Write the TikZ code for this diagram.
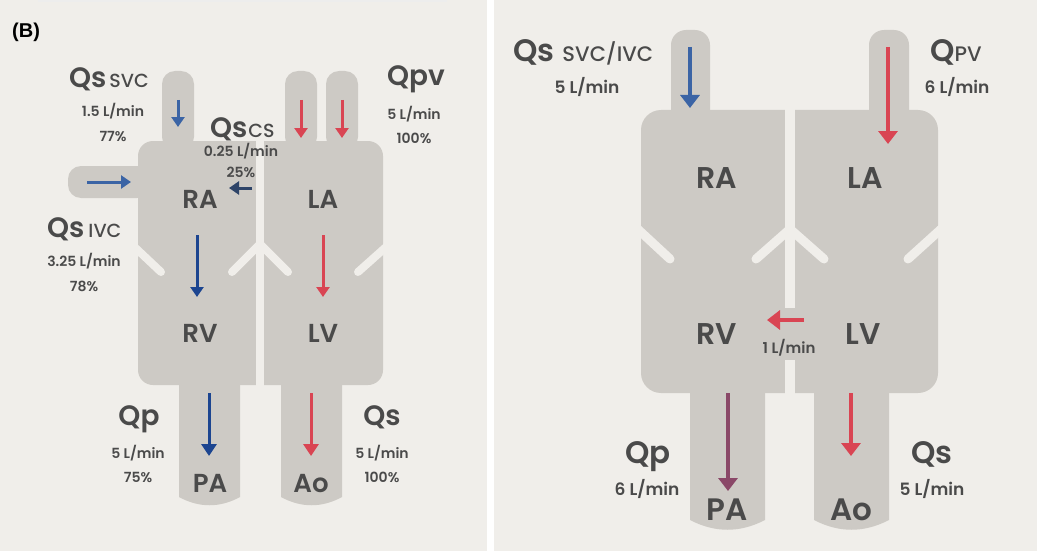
\documentclass[tikz,border=0pt]{standalone}
\usepackage{fontspec}
\usetikzlibrary{arrows.meta}
\newfontfamily\popm{Poppins}[UprightFont={* Medium}, BoldFont={* SemiBold}]
\newfontfamily\labfont{Liberation Sans}
\definecolor{bgc}{HTML}{F0EEEA}
\definecolor{organc}{HTML}{CDCAC5}
\definecolor{txtc}{HTML}{4A4A4A}
\definecolor{bluea}{HTML}{3B64A5}
\definecolor{blueb}{HTML}{1C4590}
\definecolor{navyc}{HTML}{2E4468}
\definecolor{reda}{HTML}{D94553}
\definecolor{purpc}{HTML}{8A4868}
\newcommand\fsz[2]{{\fontsize{#1}{#1}\selectfont #2}}
\tikzset{
  organshape/.style={fill=organc},
  wall/.style={draw=bgc, line width=8pt, line cap=round, line join=round},
  sept/.style={draw=bgc, line width=8pt},
  flowS/.style={line width=3pt, -{Triangle[width=13pt,length=10pt]}},
  flowL/.style={line width=4pt, -{Triangle[width=19pt,length=13pt]}},
  lab/.style={text=txtc, inner sep=0pt, font=\popm\bfseries, anchor=base},
  small/.style={text=txtc, inner sep=0pt, font=\popm\bfseries\fontsize{14}{14}\selectfont, anchor=base},
  smallR/.style={text=txtc, inner sep=0pt, font=\popm\bfseries\fontsize{17}{17}\selectfont, anchor=base},
}
\begin{document}
\begin{tikzpicture}[x=1pt,y=-1pt]
\useasboundingbox (0,0) rectangle (1037,551);
\fill[white] (0,0) rectangle (1037,551);
\fill[bgc] (0,0) rectangle (487,551);
\fill[bgc] (494,0) rectangle (1037,551);
\draw[draw=black!7, line width=1.5pt] (38,0.8) -- (447,0.8);

% ---------- left panel organs ----------
\fill[organshape, rounded corners=15] (138,141) rectangle (383,385);
\fill[organshape, rounded corners=13] (162,71) rectangle (194,150);
\fill[organshape, rounded corners=13] (285,71) rectangle (317,150);
\fill[organshape, rounded corners=13] (326,71) rectangle (358,150);
\fill[organshape, rounded corners=13] (68,166) rectangle (150,198);
\fill[organshape] (179,375) -- (179,497) .. controls (199,508) and (220,508) .. (240,497) -- (240,375) -- cycle;
\fill[organshape] (281,375) -- (281,497) .. controls (301,508) and (322,508) .. (342,497) -- (342,375) -- cycle;
\draw[sept] (260,138) -- (260,388);
\draw[wall] (126,239) -- (161,272);
\draw[wall] (232,272) -- (260,244) -- (288,272);
\draw[wall] (395,239) -- (358,272);

% ---------- right panel organs ----------
\fill[organshape, rounded corners=20] (641,110) rectangle (938,393);
\fill[organshape, rounded corners=15] (671,30) rectangle (710,125);
\fill[organshape, rounded corners=15] (869,30) rectangle (909,125);
\fill[organshape] (690,383) -- (690,520) .. controls (715,533) and (740,533) .. (765,520) -- (765,383) -- cycle;
\fill[organshape] (814,383) -- (814,520) .. controls (839,533) and (864,533) .. (889,520) -- (889,383) -- cycle;
\draw[sept, line width=10pt] (790,100) -- (790,308);
\draw[sept, line width=10pt] (790,360) -- (790,403);
\draw[wall, line width=9pt] (629,221) -- (670,259);
\draw[wall, line width=9pt] (756,259) -- (790,229) -- (824,259);
\draw[wall, line width=9pt] (950,221) -- (908,259);

% ---------- arrow coordinates ----------
\coordinate (svcA) at (178,100); \coordinate (svcB) at (178,127);
\coordinate (pv1A) at (301,100); \coordinate (pv1B) at (301,138);
\coordinate (pv2A) at (342,100); \coordinate (pv2B) at (342,138);
\coordinate (ivcA) at (87,182);  \coordinate (ivcB) at (131,182);
\coordinate (csA) at (252,188);  \coordinate (csB) at (229,188);
\coordinate (ravA) at (197,235); \coordinate (ravB) at (197,297);
\coordinate (lavA) at (323,235); \coordinate (lavB) at (323,297);
\coordinate (paA) at (209,393);  \coordinate (paB) at (209,456);
\coordinate (aoA) at (311,393);  \coordinate (aoB) at (311,456);
\coordinate (rsvA) at (690,47);  \coordinate (rsvB) at (690,108);
\coordinate (rpvA) at (888,47);  \coordinate (rpvB) at (888,144);
\coordinate (vsdA) at (804,320); \coordinate (vsdB) at (767,320);
\coordinate (rpaA) at (728,393); \coordinate (rpaB) at (728,491);
\coordinate (raoA) at (851,393); \coordinate (raoB) at (851,456);

\draw[flowS, bluea] (svcA) -- (svcB);
\draw[flowS, reda] (pv1A) -- (pv1B);
\draw[flowS, reda] (pv2A) -- (pv2B);
\draw[flowS, bluea] (ivcA) -- (ivcB);
\draw[flowS, navyc] (csA) -- (csB);
\draw[flowS, blueb] (ravA) -- (ravB);
\draw[flowS, reda] (lavA) -- (lavB);
\draw[flowS, blueb, -{Triangle[width=15pt,length=12pt]}] (paA) -- (paB);
\draw[flowS, reda, -{Triangle[width=15pt,length=12pt]}] (aoA) -- (aoB);
\draw[flowL, bluea] (rsvA) -- (rsvB);
\draw[flowL, reda] (rpvA) -- (rpvB);
\draw[flowL, reda] (vsdA) -- (vsdB);
\draw[flowL, purpc] (rpaA) -- (rpaB);
\draw[flowL, reda] (raoA) -- (raoB);

% ---------- left panel texts ----------
\node[text=black, inner sep=0pt, anchor=base west, font=\labfont\bfseries\fontsize{20}{20}\selectfont] (tagB) at (12,38) {(B)};
\node[lab, anchor=base west] (qsvc) at (69,88) {\fsz{28}{Qs}\hspace{3pt}{\mdseries\fsz{19}{SVC}}};
\node[small] (svcf) at (113,117) {1.5 L/min};
\node[small] (svcp) at (113,142) {77\%};
\node[lab, anchor=base west] (qcs) at (210,137) {\fsz{28}{Qs}\hspace{1pt}{\mdseries\fsz{19}{CS}}};
\node[small] (csf) at (241,156) {0.25 L/min};
\node[small] (csp) at (241,177) {25\%};
\node[lab, anchor=base west] (qpv) at (387,85) {\fsz{28}{Qpv}};
\node[small] (pvf) at (414,119) {5 L/min};
\node[small] (pvp) at (414,143) {100\%};
\node[lab] (ra) at (200,208) {\fsz{26}{RA}};
\node[lab] (la) at (323,208) {\fsz{26}{LA}};
\node[lab, anchor=base west] (qivc) at (47,237) {\fsz{28}{Qs}\hspace{4pt}{\mdseries\fsz{19}{IVC}}};
\node[small] (ivcf) at (84,266) {3.25 L/min};
\node[small] (ivcp) at (84,291) {78\%};
\node[lab] (rv) at (200,342) {\fsz{26}{RV}};
\node[lab] (lv) at (323,342) {\fsz{26}{LV}};
\node[lab] (qp) at (139,425) {\fsz{28}{Qp}};
\node[small] (qpf) at (138,458) {5 L/min};
\node[small] (qpp) at (138,482) {75\%};
\node[lab] (pa) at (210,492) {\fsz{26}{PA}};
\node[lab] (ao) at (311,492) {\fsz{26}{Ao}};
\node[lab] (qs) at (382,425) {\fsz{28}{Qs}};
\node[small] (qsf) at (382,458) {5 L/min};
\node[small] (qsp) at (382,482) {100\%};

% ---------- right panel texts ----------
\node[lab, anchor=base west] (rqsvc) at (513,62) {\fsz{31}{Qs}\hspace{8pt}{\mdseries\fsz{21}{SVC/IVC}}};
\node[smallR] (rsvf) at (587,94) {5 L/min};
\node[lab, anchor=base west] (rqpv) at (930,62) {\fsz{31}{Q}{\mdseries\fsz{21}{PV}}};
\node[smallR] (rpvf) at (957,94) {6 L/min};
\node[lab] (rra) at (717,188) {\fsz{30}{RA}};
\node[lab] (rla) at (865,188) {\fsz{30}{LA}};
\node[lab] (rrv) at (717,344) {\fsz{30}{RV}};
\node[lab] (rlv) at (863,344) {\fsz{30}{LV}};
\node[small, font=\popm\bfseries\fontsize{15}{15}\selectfont] (vsdf) at (789,353) {1 L/min};
\node[lab] (rqp) at (648,463) {\fsz{31}{Qp}};
\node[smallR] (rqpf) at (647,495) {6 L/min};
\node[lab] (rpa) at (727,520) {\fsz{31}{PA}};
\node[lab] (rao) at (851,520) {\fsz{31}{Ao}};
\node[lab] (rqs) at (932,463) {\fsz{31}{Qs}};
\node[smallR] (rqsf) at (932,495) {5 L/min};
\end{tikzpicture}
\end{document}
